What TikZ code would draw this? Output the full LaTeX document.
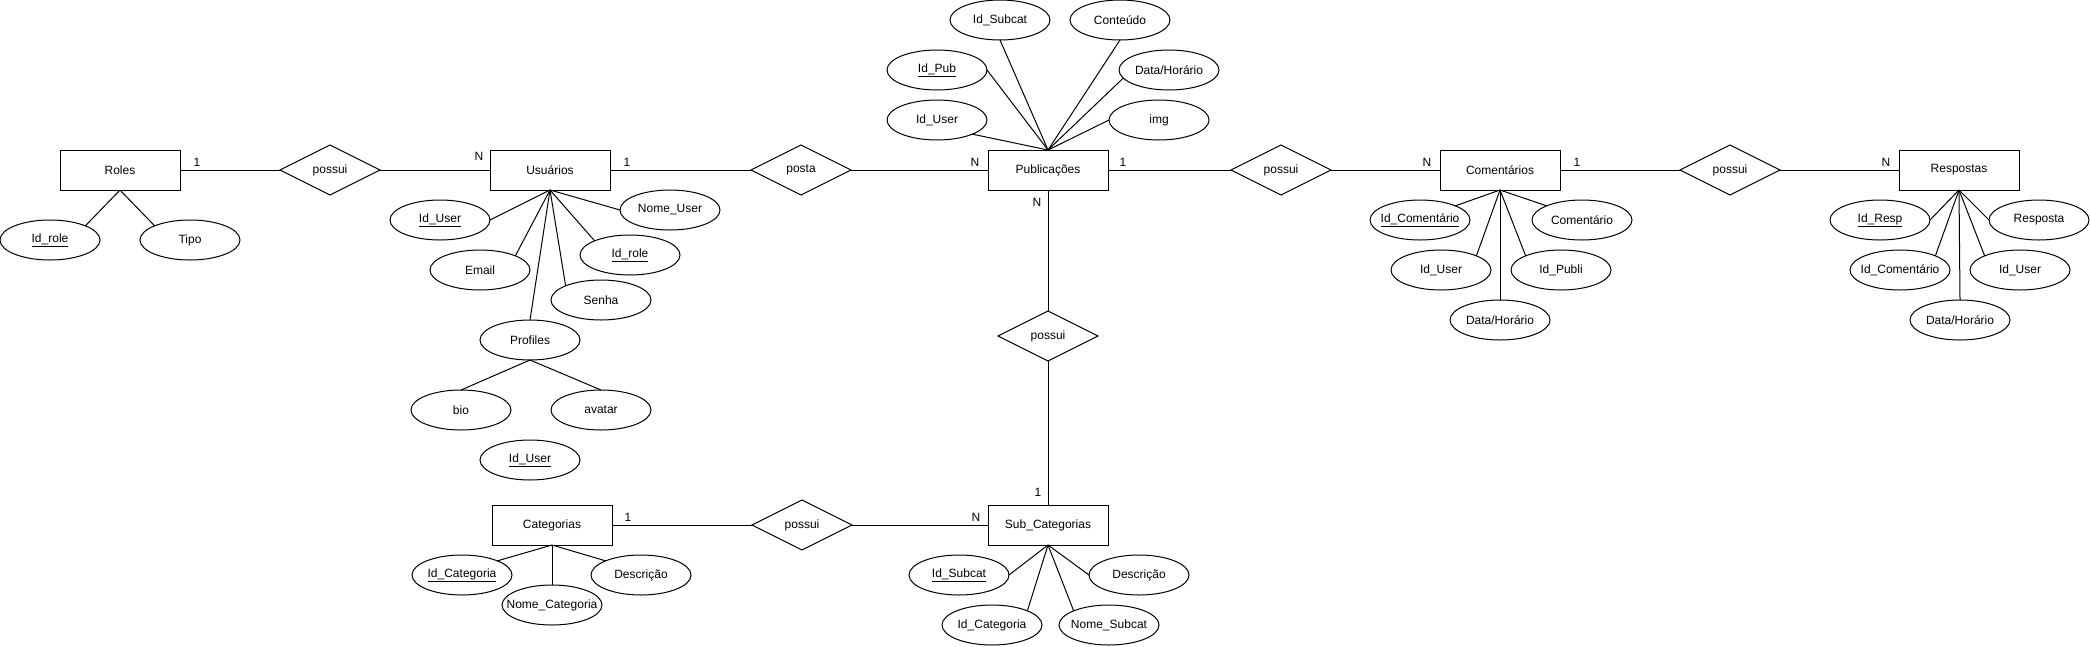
\documentclass[tikz,border=0pt]{standalone}
\usepackage{fontspec}
\setmainfont{Liberation Sans}
\usetikzlibrary{shapes.geometric}
\newcommand{\zt}[1]{\makebox[0pt]{#1}}
\newcommand{\zu}[1]{\makebox[0pt]{\underline{#1}}}
\begin{document}
\begin{tikzpicture}[x=1pt,y=-1pt,
  every node/.style={font=\fontsize{12}{14}\selectfont, inner sep=0pt, outer sep=0pt},
  ent/.style={draw, rectangle, line width=1pt, minimum width=120pt, minimum height=40pt},
  att/.style={draw, ellipse, line width=1pt, minimum width=100pt, minimum height=40pt},
  rel/.style={draw, diamond, line width=1pt, minimum width=100pt, minimum height=50pt, aspect=2},
  card/.style={},
  link/.style={draw, line width=1pt}
]
\fill[white] (0,0) rectangle (2090,646);
\useasboundingbox (0,0) rectangle (2090,646);

% entities
\node[ent] (roles) at (120,170) {Roles};
\node[ent] (usu) at (550,170) {Usuários};
\node[ent] (pub) at (1048,170) {Publicações};
\node[ent] (com) at (1500,170) {Comentários};
\node[ent] (resp) at (1959,170) {Respostas};
\node[ent] (cat) at (552,525) {Categorias};
\node[ent] (sub) at (1048,525) {Sub\_Categorias};

% relations
\node[rel] (r1) at (330,170) {possui};
\node[rel] (r2) at (801,170) {posta};
\node[rel] (r3) at (1281,170) {possui};
\node[rel] (r4) at (1730,170) {possui};
\node[rel] (r5) at (1048,336) {possui};
\node[rel] (r6) at (802,525) {possui};

% attributes: Roles
\node[att] (aidrole) at (50,240) {\zu{Id\_role}};
\node[att] (atipo) at (190,240) {\zt{Tipo}};
% Usuarios
\node[att] (uid) at (440,220) {\zu{Id\_User}};
\node[att] (unome) at (670,210) {\zt{Nome\_User}};
\node[att] (uemail) at (480,270) {\zt{Email}};
\node[att] (uidrole) at (630,255) {\zu{Id\_role}};
\node[att] (usenha) at (601,300) {\zt{Senha}};
\node[att] (uprof) at (530,340) {\zt{Profiles}};
\node[att] (pbio) at (461,410) {\zt{bio}};
\node[att] (pavatar) at (601,410) {\zt{avatar}};
\node[att] (pid) at (530,460) {\zu{Id\_User}};
% Publicacoes
\node[att] (pbsubcat) at (1000,20) {\zt{Id\_Subcat}};
\node[att] (pbcont) at (1120,20) {\zt{Conteúdo}};
\node[att] (pbid) at (937,70) {\zu{Id\_Pub}};
\node[att] (pbdh) at (1169,70) {\zt{Data/Horário}};
\node[att] (pbuser) at (937,120) {\zt{Id\_User}};
\node[att] (pbimg) at (1159,120) {\zt{img}};
% Comentarios
\node[att] (cid) at (1420,220) {\zu{Id\_Comentário}};
\node[att] (ccom) at (1582,220) {\zt{Comentário}};
\node[att] (cuser) at (1441,270) {\zt{Id\_User}};
\node[att] (cpubli) at (1561,270) {\zt{Id\_Publi}};
\node[att] (cdh) at (1500,320) {\zt{Data/Horário}};
% Respostas
\node[att] (rsid) at (1880,220) {\zu{Id\_Resp}};
\node[att] (rsresp) at (2039,220) {\zt{Resposta}};
\node[att] (rscom) at (1900,270) {\zt{Id\_Comentário}};
\node[att] (rsuser) at (2020,270) {\zt{Id\_User}};
\node[att] (rsdh) at (1960,320) {\zt{Data/Horário}};
% Categorias
\node[att] (ctid) at (462,575) {\zu{Id\_Categoria}};
\node[att] (ctnome) at (552,605) {\zt{Nome\_Categoria}};
\node[att] (ctdesc) at (641,575) {\zt{Descrição}};
% Sub_Categorias
\node[att] (scid) at (959,575) {\zu{Id\_Subcat}};
\node[att] (scdesc) at (1139,575) {\zt{Descrição}};
\node[att] (sccat) at (992,625) {\zt{Id\_Categoria}};
\node[att] (scnome) at (1109,625) {\zt{Nome\_Subcat}};

% relationship connectors
\path[link] (roles.east) -- (r1.west);
\path[link] (r1.east) -- (usu.west);
\path[link] (usu.east) -- (r2.west);
\path[link] (r2.east) -- (pub.west);
\path[link] (pub.east) -- (r3.west);
\path[link] (r3.east) -- (com.west);
\path[link] (com.east) -- (r4.west);
\path[link] (r4.east) -- (resp.west);
\path[link] (pub.south) -- (r5.north);
\path[link] (r5.south) -- (sub.north);
\path[link] (cat.east) -- (r6.west);
\path[link] (r6.east) -- (sub.west);

% attribute connectors
\path[link] (roles.south) -- (aidrole.north east);
\path[link] (roles.south) -- (atipo.north west);

\path[link] (usu.south) -- (uid.east);
\path[link] (usu.south) -- (unome.west);
\path[link] (usu.south) -- (uemail.north east);
\path[link] (usu.south) -- (uidrole.north west);
\path[link] (usu.south) -- (usenha.north west);
\path[link] (usu.south) -- (uprof.north);
\path[link] (uprof.south) -- (pbio.north);
\path[link] (uprof.south) -- (pavatar.north);

\path[link] (pub.north) -- (pbuser.south east);
\path[link] (pub.north) -- (pbid.east);
\path[link] (pub.north) -- (pbsubcat.south);
\path[link] (pub.north) -- (pbcont.south);
\path[link] (pub.north) -- (pbdh.190);
\path[link] (pub.north) -- (pbimg.west);

\path[link] (com.south) -- (cid.north east);
\path[link] (com.south) -- (ccom.north west);
\path[link] (com.south) -- (cuser.north east);
\path[link] (com.south) -- (cpubli.north west);
\path[link] (com.south) -- (cdh.north);

\path[link] (resp.south) -- (rsid.east);
\path[link] (resp.south) -- (rsresp.west);
\path[link] (resp.south) -- (rscom.north east);
\path[link] (resp.south) -- (rsuser.north west);
\path[link] (resp.south) -- (rsdh.north);

\path[link] (cat.south) -- (ctid.north east);
\path[link] (cat.south) -- (ctnome.north);
\path[link] (cat.south) -- (ctdesc.north west);

\path[link] (sub.south) -- (scid.east);
\path[link] (sub.south) -- (sccat.north east);
\path[link] (sub.south) -- (scnome.north west);
\path[link] (sub.south) -- (scdesc.west);

% cardinalities
\node[card] (k1) at (197,162) {1};
\node[card] (k2) at (479,156) {N};
\node[card] (k3) at (627,162) {1};
\node[card] (k4) at (975,162) {N};
\node[card] (k5) at (1123,162) {1};
\node[card] (k6) at (1037,202) {N};
\node[card] (k7) at (1427,162) {N};
\node[card] (k8) at (1577,162) {1};
\node[card] (k9) at (1886,162) {N};
\node[card] (k10) at (1038,492) {1};
\node[card] (k11) at (628,517) {1};
\node[card] (k12) at (976,517) {N};
\end{tikzpicture}
\end{document}
